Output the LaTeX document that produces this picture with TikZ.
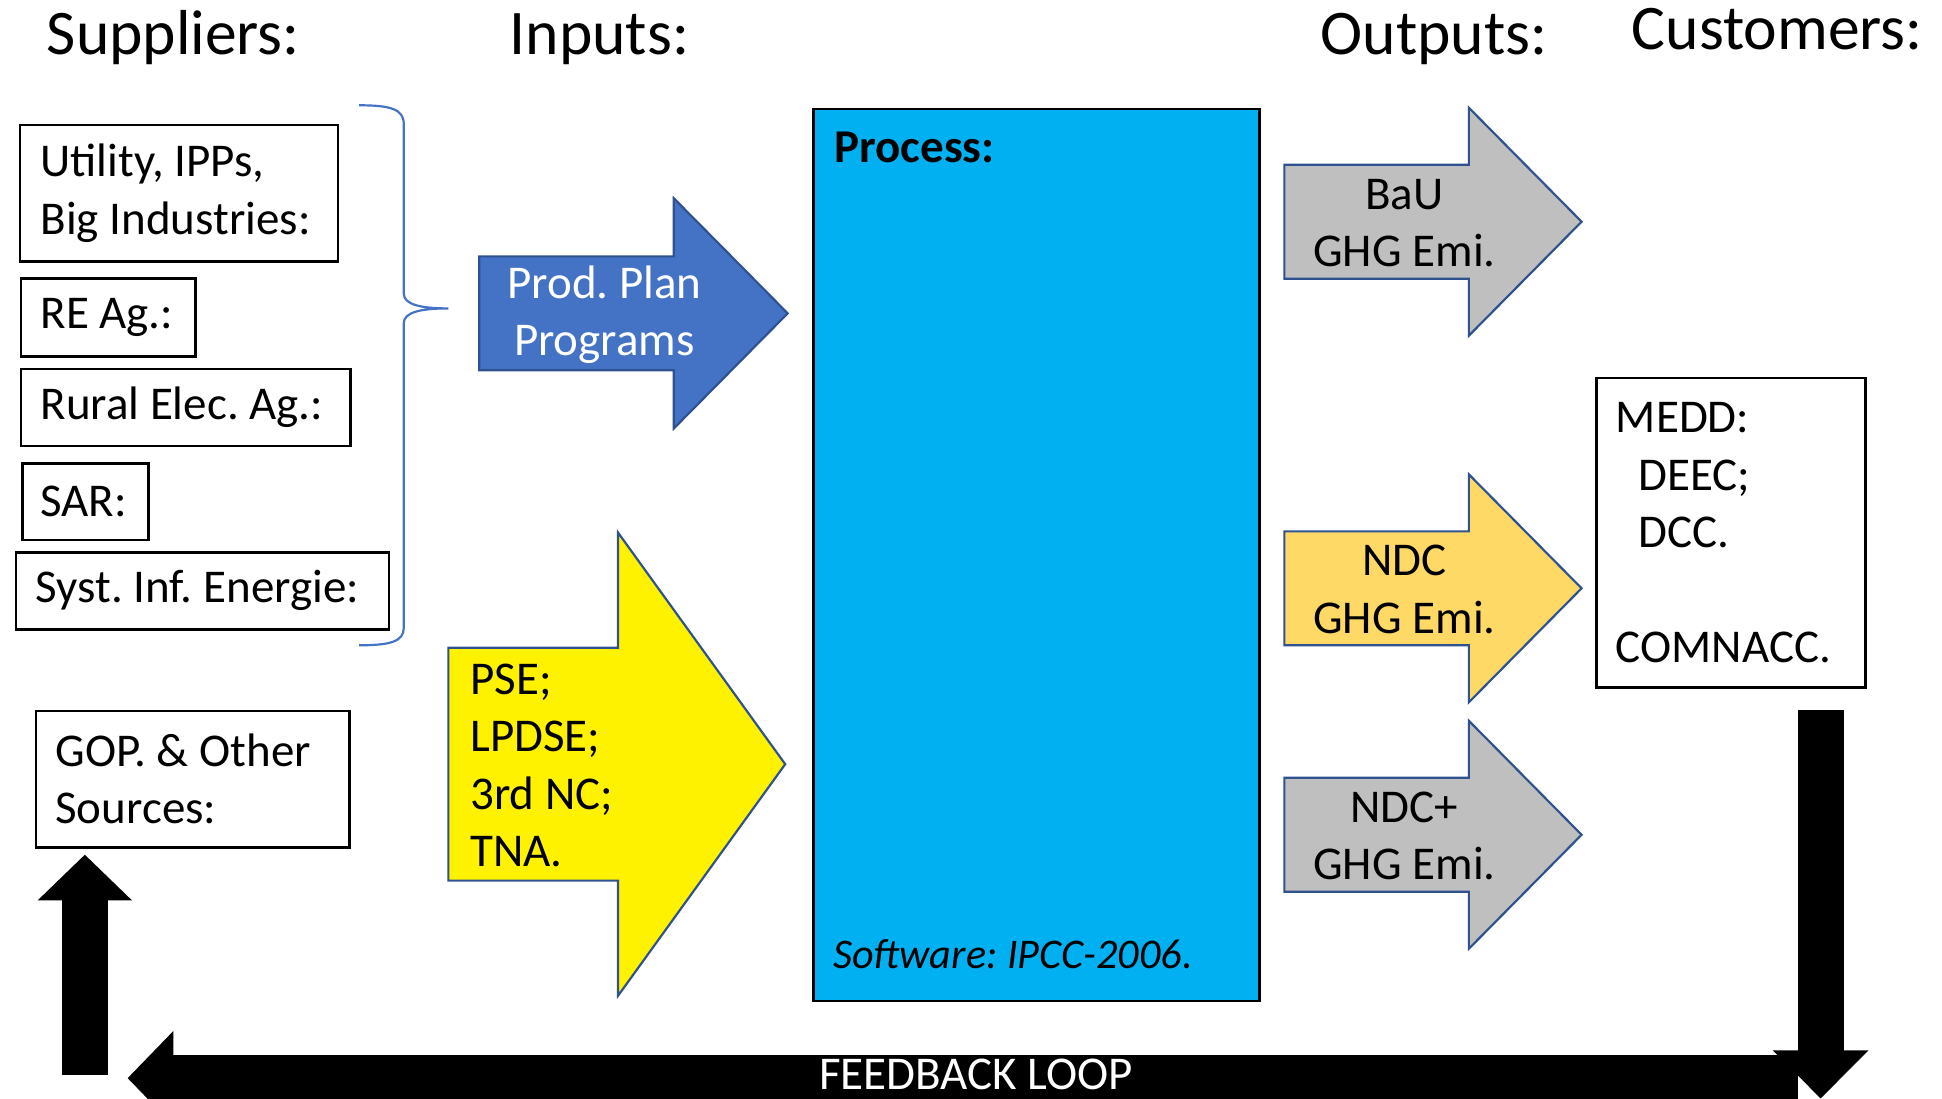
\documentclass[tikz,border=0pt]{standalone}
\usepackage{fontspec}
\setmainfont{Carlito}
\usepackage{xcolor}
\usetikzlibrary{positioning,calc,arrows.meta}
\definecolor{ArrowLine}{RGB}{47,82,143}
\definecolor{PlanBlue}{RGB}{68,114,196}
\definecolor{ProcCyan}{RGB}{0,176,240}
\definecolor{OutGray}{RGB}{191,191,191}
\definecolor{OutGold}{RGB}{255,217,102}
\frenchspacing

\begin{document}
\begin{tikzpicture}[x=0.1mm, y=-0.1mm,
		head/.style={font=\fontsize{14.6}{17.5}\selectfont, anchor=base, inner sep=0},
		box/.style={draw=black, line width=0.6pt, fill=white, inner sep=0, anchor=north west},
		txt/.style={font=\fontsize{10.8}{13.2}\selectfont, align=left, inner sep=0, anchor=west},
		blockarr/.style={draw=ArrowLine, line width=0.5pt, line join=miter},
		fb/.style={line width=3.7mm, black}
		]
		
		\useasboundingbox (0,0) rectangle (1568,887);
		
		% ===== headers =====
		\node[head] (hSup) at (140,44) {Suppliers:};
		\node[head] (hIn) at (484,44) {Inputs:};
		\node[head] (hOut) at (1158,44) {Outputs:};
		\node[head] (hCust) at (1435,40) {Customers:};
		
		% ===== suppliers =====
		\node[box, minimum width=25.7mm, minimum height=11.0mm] (util) at (15,100) {};
		\node[txt, right=1.7mm of util.west] (utilT) {Utility, IPPs,\\Big Industries:};
		\node[box, minimum width=14.1mm, minimum height=6.3mm] (reag) at (16,224) {};
		\node[txt, right=1.6mm of reag.west] (reagT) {RE Ag.:};
		\node[box, minimum width=26.6mm, minimum height=6.2mm] (rural) at (16,297) {};
		\node[txt, right=1.6mm of rural.west] (ruralT) {Rural Elec. Ag.:};
		\node[box, minimum width=10.2mm, minimum height=6.2mm] (sar) at (17,373) {};
		\node[txt, right=1.5mm of sar.west] (sarT) {SAR:};
		\node[box, minimum width=30.1mm, minimum height=6.2mm] (syst) at (12,445) {};
		\node[txt, right=1.6mm of syst.west] (systT) {Syst. Inf. Energie:};
		\node[box, minimum width=25.3mm, minimum height=11.0mm] (gop) at (28,573) {};
		\node[txt, right=1.6mm of gop.west] (gopT) {GOP. \& Other\\Sources:};
		
		% ===== brace =====
		\draw[PlanBlue, line width=0.5pt] (290,85) .. controls (315,85) and (326,88) .. (326,100)
		-- (326,237) .. controls (326,246) and (340,249) .. (362,249)
		.. controls (340,249) and (326,252) .. (326,261)
		-- (326,507) .. controls (326,518) and (315,521) .. (290,521);
		
		% ===== inputs =====
		\draw[blockarr, fill=PlanBlue] (387,207) -- (544,207) -- (544,160) -- (636,253)
		-- (544,346) -- (544,299) -- (387,299) -- cycle;
		\node[txt, align=center, anchor=center, text=white] (planT) at (488,254) {Prod. Plan\\Programs};
		\draw[blockarr, fill=yellow] (362,523) -- (499,523) -- (499,430) -- (634,617)
		-- (499,804) -- (499,711) -- (362,711) -- cycle;
		\node[txt] (srcT) at (379,618) {PSE;\\LPDSE;\\3rd NC;\\TNA.};
		
		% ===== process =====
		\node[box, fill=ProcCyan, minimum width=36.0mm, minimum height=72.0mm] (proc) at (656,87) {};
		\node[txt, font=\fontsize{10.8}{13.2}\selectfont\bfseries] (procT) at ($(proc.north west)+(17,32)$) {Process:};
		\node[txt, font=\fontsize{9.7}{12}\selectfont\itshape] (softT) at ($(proc.south west)+(16,-39)$) {Software: IPCC-2006.};
		
		% ===== outputs =====
		\foreach \y/\c/\t [count=\i] in {133/OutGray/BaU, 429/OutGold/NDC, 628/OutGray/NDC+}{
			\draw[blockarr, fill=\c] (1037,\y) -- (1186,\y) -- (1186,\y-46) -- (1277,\y+46)
			-- (1186,\y+138) -- (1186,\y+92) -- (1037,\y+92) -- cycle;
			\node[txt, align=center, anchor=center] (out\i) at (1134,\y+47) {\t\\GHG Emi.};
		}
		
		% ===== customers =====
		\node[box, minimum width=21.7mm, minimum height=25.0mm] (cust) at (1288,304) {};
		\node[txt, right=1.6mm of cust.west] (custT) {MEDD:\\\hspace*{1.8mm}DEEC;\\\hspace*{1.8mm}DCC.\\[13.2pt]COMNACC.};
		
		% ===== feedback loop =====
		\coordinate (fbTop) at (1470,573);
		\coordinate (fbBot) at (1470,887);
		\coordinate (barR) at (1452,870.5);
		\coordinate (barL) at (103,870.5);
		\coordinate (upBot) at (68.5,868);
		\coordinate (upTip) at (68.5,690);
		\draw[fb, -{Triangle[length=3.7mm, width=7.4mm]}] (barR) -- (barL);
		\draw[fb, -{Triangle[length=3.9mm, width=7.5mm]}] (fbTop) -- (fbBot);
		\draw[fb, -{Triangle[length=3.7mm, width=7.4mm]}] (upBot) -- (upTip);
		\node[txt, anchor=base, text=white] (fbT) at (788,880) {FEEDBACK LOOP};
		
	\end{tikzpicture}
\end{document}
